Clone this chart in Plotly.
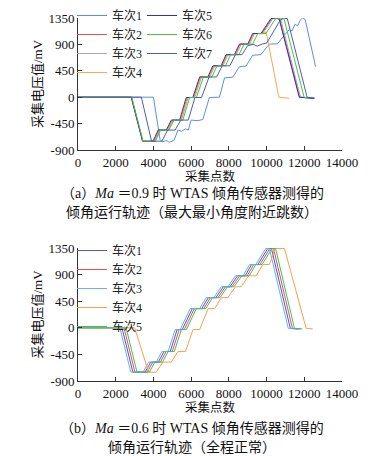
import plotly.graph_objects as go

# ---------------- data: figure (a) Ma=0.9 ----------------
a_names = ["车次1", "车次2", "车次3", "车次4", "车次5", "车次6", "车次7"]
a_colors = ["#5b8def", "#e8504a", "#a8a8a8", "#f8a850", "#3030b8", "#50c040", "#4860b0"]

a_t1 = [0, 4000, 4350, 4450, 4700, 4850, 5100, 5300, 5500, 5700, 5850, 6000, 6350, 6620, 6970, 7500,
        7770, 8200, 8560, 8910, 9260, 9700, 10140, 10580, 11020, 11200, 11350, 11500, 11650, 11800,
        11900, 12050, 12600]
a_v1 = [0, 0, -720, -760, -740, -770, -730, -560, -580, -540, -560, -390, -400, -380, -5, 0,
        330, 340, 520, 530, 715, 725, 905, 910, 1085, 1150, 1130, 1240, 1220, 1320,
        1350, 1320, 520]

a_t2 = [0, 2830, 3430, 4030, 4300, 4730, 5000, 5440, 5790, 6140, 6500, 6940, 7200, 7640, 7900, 8340,
        8610, 9050, 9310, 9750, 10280, 10500, 10700, 11760, 12530]
a_v2 = [0, 0, -750, -750, -560, -560, -390, -390, -5, -5, 345, 345, 535, 535, 725, 725,
        905, 905, 1085, 1085, 1340, 1345, 1330, 0, -20]

a_t3 = [0, 2840, 3440, 4080, 4350, 4780, 5050, 5490, 5840, 6190, 6550, 6990, 7250, 7690, 7950, 8390,
        8660, 9100, 9360, 9800, 10330, 10550, 10750, 11800, 12540]
a_v3 = [0, 0, -750, -750, -560, -560, -390, -390, -5, -5, 345, 345, 535, 535, 725, 725,
        905, 905, 1085, 1085, 1340, 1350, 1330, 0, -20]

a_t4 = [0, 2830, 3430, 4050, 4320, 4750, 5020, 5460, 5810, 6160, 6520, 6960, 7220, 7660, 7920, 8360,
        8630, 9070, 9330, 9750, 9980, 10650, 11200]
a_v4 = [0, 0, -750, -750, -560, -560, -390, -390, -5, -5, 345, 345, 535, 535, 725, 725,
        905, 905, 1085, 1085, 1110, 0, -20]

a_t5 = [0, 2820, 3420, 3980, 4250, 4680, 4950, 5390, 5740, 6090, 6450, 6890, 7150, 7590, 7850, 8290,
        8560, 9000, 9260, 9700, 10230, 10450, 10670, 11730, 12520]
a_v5 = [0, 0, -750, -750, -560, -560, -390, -390, -5, -5, 345, 345, 535, 535, 725, 725,
        905, 905, 1085, 1085, 1340, 1350, 1330, 0, -20]

a_t6 = [0, 2850, 3450, 4100, 4380, 4820, 5100, 5560, 5920, 6280, 6650, 7100, 7370, 7820, 8090, 8540,
        8810, 9260, 9530, 9960, 10480, 10700, 10930, 11990, 12280]
a_v6 = [0, 0, -750, -750, -560, -560, -390, -390, -5, -5, 345, 345, 535, 535, 725, 725,
        905, 905, 1085, 1085, 1340, 1350, 1330, 0, -15]

a_t7 = [0, 3360, 3900, 4450, 4750, 5150, 5450, 5850, 6200, 6550, 6950, 7350, 7650, 8050, 8350, 8700,
        9000, 9300, 9500, 9800, 10000, 10250, 10500, 10700, 10900, 11100, 12150, 12550]
a_v7 = [0, 0, -750, -750, -560, -560, -390, -390, -5, -5, 345, 345, 535, 535, 725, 725,
        880, 900, 870, 910, 920, 1050, 1200, 1300, 1350, 1340, 0, -15]

# ---------------- data: figure (b) Ma=0.6 ----------------
b_names = ["车次1", "车次2", "车次3", "车次4", "车次5"]
b_colors = ["#5a50d0", "#e8504a", "#62b4ea", "#f5a04a", "#3cc070"]

b_v = [0, 0, -750, -750, -580, -580, -400, -400, -30, -30, 325, 325, 510, 510, 695, 695,
       880, 880, 1070, 1070, 1340, 1340, -10, -20]

b_t1 = [0, 2330, 2910, 3560, 3860, 4260, 4560, 4890, 5260, 5530, 6060, 6560, 6910, 7310, 7710, 8060,
        8460, 8860, 9210, 9540, 10060, 10260, 11260, 11700]
b_t2 = [0, 2440, 3020, 3670, 3970, 4370, 4670, 5000, 5370, 5640, 6170, 6670, 7020, 7420, 7820, 8170,
        8570, 8970, 9320, 9650, 10170, 10370, 11370, 11800]
b_t3 = [0, 2220, 2800, 3450, 3750, 4150, 4450, 4780, 5150, 5420, 5950, 6450, 6800, 7200, 7600, 7950,
        8350, 8750, 9100, 9430, 9950, 10150, 11150, 11600]
b_t4 = [0, 3000, 3750, 4150, 4500, 4950, 5300, 5700, 6100, 6450, 6900, 7250, 7600, 7950, 8350, 8650,
        9050, 9450, 9800, 10150, 10450, 10950, 12100, 12450]
b_t5 = [0, 2550, 3130, 3780, 4080, 4480, 4780, 5110, 5480, 5750, 6280, 6780, 7130, 7530, 7930, 8280,
        8680, 9080, 9430, 9760, 10280, 10480, 11480, 11900]

x_ticks = [0, 2000, 4000, 6000, 8000, 10000, 12000, 14000]
x_ticktext = ["0", "2000", "4000", "6000", "8000", "10000", "12000", "14000"]
y_ticks = [-900, -450, 0, 450, 900, 1350]
y_ticktext = ["-900", "-450", "0", "450", "900", "1350"]

W, H = 370, 456
SERIF = "Liberation Serif, Noto Sans CJK SC, serif"
CJK = "Liberation Serif, Noto Sans CJK SC, sans-serif"

fig = go.Figure()

a_series = [(a_t1, a_v1), (a_t2, a_v2), (a_t3, a_v3), (a_t4, a_v4), (a_t5, a_v5), (a_t6, a_v6), (a_t7, a_v7)]
for i, (t, v) in enumerate(a_series):
    fig.add_trace(go.Scatter(
        x=t, y=v, mode="lines", name=a_names[i],
        line=dict(color=a_colors[i], width=1),
        xaxis="x", yaxis="y",
        legend="legend" if i < 4 else "legend2",
    ))

b_series = [b_t1, b_t2, b_t3, b_t4, b_t5]
for i, t in enumerate(b_series):
    fig.add_trace(go.Scatter(
        x=t, y=b_v, mode="lines", name=b_names[i],
        line=dict(color=b_colors[i], width=1),
        xaxis="x2", yaxis="y2", legend="legend3",
    ))


def px_x(p):
    return p / W


def px_y(p):
    return 1 - p / H


axis_common = dict(
    showgrid=False, zeroline=False, showline=True, linecolor="#333", linewidth=1,
    ticks="inside", ticklen=4, tickcolor="#333", mirror=False, automargin=False,
    tickfont=dict(family=SERIF, size=13, color="#111"),
)
title_font = dict(family=CJK, size=13, color="#111")
xtitle_font = dict(family=CJK, size=12.5, color="#111")

xdom = [px_x(78), px_x(342)]
fig.update_layout(
    width=W, height=H,
    margin=dict(l=0, r=0, t=0, b=0, autoexpand=False),
    paper_bgcolor="white", plot_bgcolor="white",
    xaxis=dict(domain=xdom, range=[0, 14000], tickvals=x_ticks, ticktext=x_ticktext, anchor="y",
               **axis_common),
    yaxis=dict(domain=[px_y(150), px_y(18)], range=[-900, 1350], tickvals=y_ticks, ticktext=y_ticktext,
               anchor="x", title=dict(text="采集电压值/mV", font=title_font, standoff=2), **axis_common),
    xaxis2=dict(domain=xdom, range=[0, 14000], tickvals=x_ticks, ticktext=x_ticktext, anchor="y2",
                **axis_common),
    yaxis2=dict(domain=[px_y(381), px_y(248)], range=[-900, 1350], tickvals=y_ticks, ticktext=y_ticktext,
                anchor="x2", title=dict(text="采集电压值/mV", font=title_font, standoff=2), **axis_common),
    legend=dict(x=px_x(72), y=px_y(1), xanchor="left", yanchor="top", bgcolor="rgba(0,0,0,0)",
                font=dict(family=CJK, size=12, color="#222"), tracegroupgap=0),
    legend2=dict(x=px_x(142), y=px_y(1), xanchor="left", yanchor="top", bgcolor="rgba(0,0,0,0)",
                 font=dict(family=CJK, size=12, color="#222"), tracegroupgap=0),
    legend3=dict(x=px_x(72), y=px_y(236), xanchor="left", yanchor="top", bgcolor="rgba(0,0,0,0)",
                 font=dict(family=CJK, size=12, color="#222"), tracegroupgap=0),
    showlegend=True,
)

# x-axis titles (placed right under the tick labels as in the reference)
for yp in (176, 407):
    fig.add_annotation(text="采集点数", xref="paper", yref="paper", x=px_x(210), y=px_y(yp),
                       xanchor="center", yanchor="middle", showarrow=False, font=xtitle_font)

captions = [
    ("（a）<i>Ma</i> ＝0.9 时 WTAS 倾角传感器测得的", 193),
    ("倾角运行轨迹（最大最小角度附近跳数）", 212),
    ("（b）<i>Ma</i> ＝0.6 时 WTAS 倾角传感器测得的", 428),
    ("倾角运行轨迹（全程正常）", 447),
]
for text, yp in captions:
    fig.add_annotation(text=text, xref="paper", yref="paper", x=px_x(192), y=px_y(yp),
                       xanchor="center", yanchor="middle", showarrow=False,
                       font=dict(family=CJK, size=14, color="#111"))

fig.write_html("out.html", config={"displayModeBar": False},
               post_script="document.body.style.margin='0';")
